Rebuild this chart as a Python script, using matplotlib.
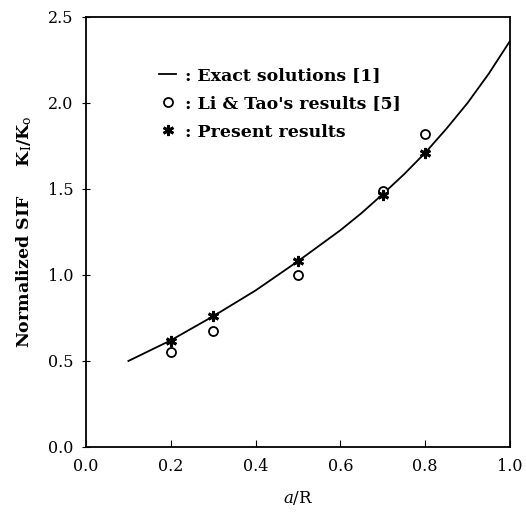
import matplotlib.pyplot as plt
import numpy as np

# exact solution curve
exact_x = [0.1, 0.15, 0.2, 0.25, 0.3, 0.35, 0.4, 0.45, 0.5, 0.55, 0.6, 0.65, 0.7, 0.75, 0.8, 0.85, 0.9, 0.95, 1.0]
exact_y = [0.50, 0.56, 0.62, 0.69, 0.76, 0.835, 0.91, 0.995, 1.08, 1.17, 1.26, 1.36, 1.47, 1.585, 1.71, 1.85, 2.00, 2.17, 2.36]

li_x = [0.2, 0.3, 0.5, 0.7, 0.8]
li_y = [0.55, 0.675, 1.00, 1.49, 1.82]

pres_x = [0.2, 0.3, 0.5, 0.7, 0.8]
pres_y = [0.616, 0.76, 1.08, 1.465, 1.71]

xticks = [0.0, 0.2, 0.4, 0.6, 0.8, 1.0]
yticks = [0.0, 0.5, 1.0, 1.5, 2.0, 2.5]

plt.rcParams['font.family'] = 'serif'
plt.rcParams['font.serif'] = ['DejaVu Serif']
plt.rcParams['mathtext.fontset'] = 'dejavuserif'

fig = plt.figure(figsize=(5.26, 5.14), dpi=100)
ax = fig.add_axes([0.1635, 0.1304, 0.806, 0.8366])

ax.plot(exact_x, exact_y, color='black', lw=1.3, label=': Exact solutions [1]')
ax.plot(li_x, li_y, 'o', mfc='white', mec='black', ms=6.5, mew=1.3, ls='none',
        label=": Li & Tao's results [5]")
ax.plot(pres_x, pres_y, marker=(6, 2, 0), color='black', ms=8, mew=2, ls='none',
        label=': Present results')

ax.set_xlim(0, 1.0)
ax.set_ylim(0, 2.5)
ax.set_xticks(xticks)
ax.set_yticks(yticks)
ax.set_xticklabels(['%.1f' % v for v in xticks])
ax.set_yticklabels(['%.1f' % v for v in yticks])
ax.tick_params(axis='x', direction='in', length=5, labelsize=11.5, pad=8)
ax.tick_params(axis='y', direction='inout', length=6, labelsize=11.5, pad=6)
ax.tick_params(top=False, right=False)
for s in ax.spines.values():
    s.set_linewidth(1.3)

ax.set_xlabel('$a$/R', fontsize=12, labelpad=10)
ax.set_ylabel('Normalized SIF     K$_\\mathrm{I}$/K$_\\mathrm{o}$', fontsize=12.5,
              fontweight='bold', labelpad=10)

ax.legend(loc='upper left', bbox_to_anchor=(0.135, 0.92), frameon=False,
          handlelength=1.0, handletextpad=0.5, labelspacing=0.65,
          prop={'size': 12.5, 'weight': 'bold'})

fig.savefig('out.png', dpi=100)
